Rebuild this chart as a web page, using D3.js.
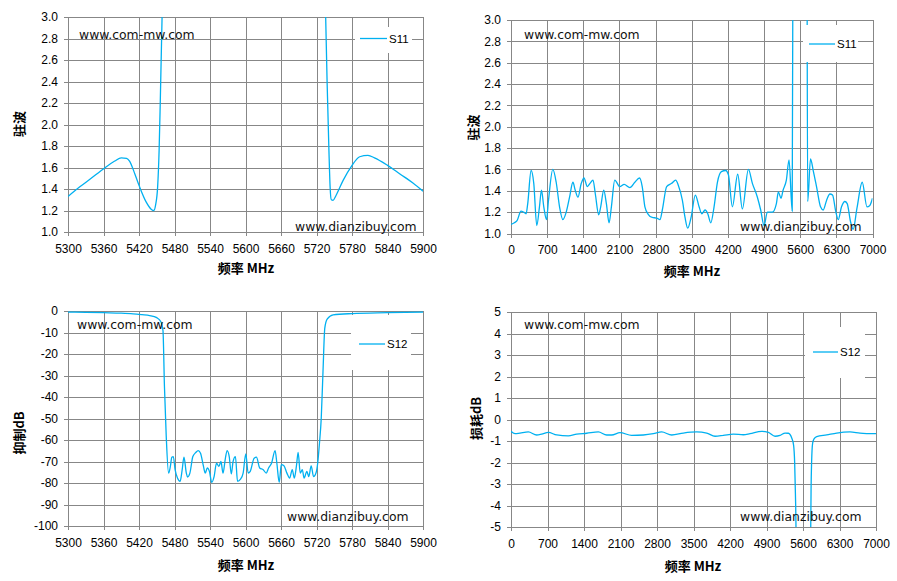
<!DOCTYPE html>
<html>
<head>
<meta charset="utf-8">
<script src="https://cdn.jsdelivr.net/npm/d3@7"></script>
<style>
  body { margin: 0; background: #fff; }
  svg { display: block; }
  .axis text { font-family: "Liberation Sans", Arial, sans-serif; font-size: 12px; fill: #000; }
  .axis line { stroke: #878787; stroke-width: 1; shape-rendering: crispEdges; }
  .axis .domain { display: none; }
  .title { font-family: "Noto Sans CJK SC", sans-serif; font-size: 13px; font-weight: bold; fill: #000; }
  .mark { font-family: "DejaVu Sans", Verdana, sans-serif; font-size: 12.4px; fill: #111; }
  .legend-text { font-family: "Liberation Sans", Arial, sans-serif; font-size: 11.5px; fill: #000; }
  .series { fill: none; stroke: #00b0f0; stroke-width: 1.3; }
</style>
</head>
<body>
<div id="chart"></div>
<script>
const width = 897;
const height = 581;

// tick values
const narrowTicks = [5300, 5360, 5420, 5480, 5540, 5600, 5660, 5720, 5780, 5840, 5900];
const wideTicks = [0, 700, 1400, 2100, 2800, 3500, 4200, 4900, 5600, 6300, 7000];
const vswrTicks = [1.0, 1.2, 1.4, 1.6, 1.8, 2.0, 2.2, 2.4, 2.6, 2.8, 3.0];
const rejectTicks = [0, -10, -20, -30, -40, -50, -60, -70, -80, -90, -100];
const lossTicks = [5, 4, 3, 2, 1, 0, -1, -2, -3, -4, -5];

// S11 narrow band (VSWR), values above 3.0 are off the chart
const s11NarrowFreq = [5300, 5320, 5337, 5362, 5379, 5390, 5399, 5404, 5413, 5421, 5432, 5441, 5445, 5448, 5451.5, 5454, 5456, 5459, 5462, 5470, 5500, 5600, 5700, 5725, 5732, 5735.5, 5738, 5741, 5743, 5745, 5748, 5753, 5765, 5779, 5793, 5807, 5818, 5840, 5861, 5883, 5900];
const s11NarrowVswr = [1.33, 1.42, 1.49, 1.595, 1.66, 1.69, 1.685, 1.66, 1.54, 1.42, 1.28, 1.21, 1.2, 1.25, 1.42, 1.76, 2.22, 3.0, 4, 8, 15, 20, 15, 8, 4, 3.0, 2.38, 1.76, 1.42, 1.3, 1.295, 1.34, 1.48, 1.61, 1.70, 1.713, 1.69, 1.62, 1.54, 1.456, 1.38];

// S11 wide band (VSWR)
const s11WideFreq = [0, 65, 117, 194, 246, 292, 324, 389, 441, 499, 551, 590, 635, 687, 726, 810, 875, 940, 1005, 1069, 1134, 1199, 1244, 1296, 1361, 1413, 1478, 1530, 1588, 1633, 1698, 1737, 1796, 1847, 1899, 1944, 2009, 2106, 2191, 2301, 2398, 2489, 2541, 2593, 2657, 2735, 2819, 2884, 2930, 3014, 3111, 3189, 3241, 3319, 3370, 3422, 3487, 3570, 3642, 3694, 3758, 3810, 3868, 3932, 3997, 4074, 4158, 4210, 4287, 4390, 4480, 4597, 4674, 4771, 4835, 4900, 4964, 5061, 5139, 5177, 5229, 5268, 5332, 5384, 5445, 5458, 5480, 5600, 5720, 5735, 5745, 5800, 5852, 5916, 5994, 6046, 6110, 6175, 6226, 6291, 6336, 6400, 6465, 6510, 6575, 6625, 6700, 6801, 6893, 6944, 7000];
const s11WideVswr = [1.085, 1.10, 1.12, 1.21, 1.20, 1.185, 1.28, 1.59, 1.47, 1.075, 1.25, 1.405, 1.25, 1.13, 1.31, 1.60, 1.48, 1.25, 1.13, 1.20, 1.34, 1.48, 1.405, 1.34, 1.47, 1.52, 1.44, 1.47, 1.50, 1.37, 1.175, 1.25, 1.405, 1.28, 1.10, 1.25, 1.50, 1.44, 1.46, 1.43, 1.48, 1.52, 1.44, 1.25, 1.18, 1.15, 1.145, 1.13, 1.22, 1.44, 1.47, 1.50, 1.45, 1.31, 1.15, 1.05, 1.15, 1.36, 1.25, 1.185, 1.22, 1.185, 1.10, 1.25, 1.48, 1.58, 1.59, 1.55, 1.25, 1.555, 1.23, 1.60, 1.47, 1.34, 1.22, 1.075, 1.20, 1.20, 1.28, 1.39, 1.33, 1.405, 1.50, 1.69, 1.21, 3.5, 10, 20, 10, 3.0, 1.30, 1.70, 1.59, 1.44, 1.25, 1.22, 1.31, 1.37, 1.36, 1.20, 1.13, 1.25, 1.30, 1.28, 1.11, 1.04, 1.24, 1.48, 1.25, 1.26, 1.33];

// S12 narrow band (rejection, dB)
const s12NarrowFreq = [5300, 5330, 5360, 5390, 5410, 5425, 5438, 5450, 5457, 5460.5, 5463, 5466, 5470, 5473, 5475.5, 5478, 5481, 5485, 5489.5, 5493, 5496, 5500, 5502, 5506, 5511, 5516, 5520, 5524, 5529, 5532, 5535.5, 5539, 5543, 5547, 5551, 5555, 5558.5, 5562, 5566, 5569, 5572.5, 5576, 5579, 5583, 5586.5, 5591.6, 5596, 5600.5, 5604.5, 5608, 5614.6, 5618.5, 5624, 5630, 5635, 5639, 5644, 5650, 5653, 5657, 5660.5, 5665, 5670, 5674.6, 5679, 5682.5, 5686, 5689, 5692.5, 5696, 5699, 5703.7, 5707, 5711, 5715, 5719.5, 5722, 5725, 5728, 5731, 5734, 5738, 5748, 5780, 5840, 5900];
const s12NarrowDb = [-0.5, -0.6, -0.8, -1.0, -1.3, -1.7, -2.1, -3.1, -5, -9, -35, -58, -75.4, -72.3, -68, -67.7, -73.8, -77.7, -79.2, -73.8, -68, -75.4, -77.2, -75.4, -67.7, -65.8, -64.9, -66.2, -72.3, -75.4, -73, -74.6, -79.7, -76.9, -70.8, -72.3, -70, -75.4, -68.5, -64.9, -67.7, -75.8, -70, -67.7, -79.2, -78.2, -75.4, -66.5, -75.4, -74.6, -68.5, -68, -73, -73.8, -75.4, -73, -70.8, -64.9, -70.8, -79.7, -71.5, -72, -75.4, -77.7, -73.8, -77.7, -72.3, -65.8, -75.4, -73.8, -77.7, -74.6, -77, -72, -77, -75, -70.8, -61.5, -50, -28, -8, -3.8, -1.8, -1.2, -0.8, -0.5];

// S12 wide band (insertion loss, dB)
const s12WideFreq = [0, 77, 173, 332, 492, 588, 716, 876, 1099, 1259, 1451, 1675, 1835, 1931, 2090, 2314, 2538, 2730, 2890, 3082, 3305, 3561, 3753, 3913, 4073, 4265, 4456, 4584, 4808, 4936, 5064, 5160, 5256, 5320, 5384, 5420, 5440, 5455, 5466, 5480, 5600, 5720, 5748, 5755, 5765, 5785, 5812, 5863, 6054, 6246, 6500, 6694, 7000];
const s12WideDb = [-0.55, -0.66, -0.63, -0.58, -0.72, -0.68, -0.6, -0.72, -0.76, -0.68, -0.64, -0.58, -0.72, -0.72, -0.61, -0.74, -0.72, -0.66, -0.58, -0.72, -0.63, -0.58, -0.63, -0.78, -0.74, -0.68, -0.71, -0.66, -0.55, -0.6, -0.78, -0.74, -0.63, -0.64, -0.86, -1.2, -2.0, -3.5, -5.2, -20, -60, -20, -5.2, -3.2, -2.0, -1.1, -0.9, -0.8, -0.72, -0.63, -0.58, -0.63, -0.66];

// plain hyphen for negatives, like the original
const locale = d3.formatLocale({ decimal: ".", thousands: ",", grouping: [3], currency: ["", ""], minus: "-" });
const fmtInt = locale.format("d");
const fmtOne = locale.format(".1f");

const panels = [
  {
    left: 68, right: 423, top: 17, bottom: 232,
    xDomain: [5300, 5900], yDomain: [1, 3],
    xTicks: narrowTicks, yTicks: vswrTicks, yFormat: fmtOne,
    freq: s11NarrowFreq, values: s11NarrowVswr, name: "S11",
    legend: { x0: 355, y0: 27, x1: 412, y1: 53, lx0: 360, lx1: 387, ly: 38.5 },
    xTitle: { x: 246, y: 267 }, yTitle: { x: 18, y: 124, text: "驻波" },
    mark1: { x: 79, y: 39 }, mark2: { x: 295, y: 230.5 },
  },
  {
    left: 511, right: 872.5, top: 20, bottom: 233.5,
    xDomain: [0, 7000], yDomain: [1, 3],
    xTicks: wideTicks, yTicks: vswrTicks, yFormat: fmtOne,
    freq: s11WideFreq, values: s11WideVswr, name: "S11",
    legend: { x0: 803, y0: 25, x1: 858, y1: 62, lx0: 809, lx1: 835, ly: 44 },
    xTitle: { x: 692, y: 270 }, yTitle: { x: 472, y: 127.5, text: "驻波" },
    mark1: { x: 524, y: 39 }, mark2: { x: 740, y: 230.5 },
  },
  {
    left: 68, right: 423, top: 311, bottom: 526,
    xDomain: [5300, 5900], yDomain: [-100, 0],
    xTicks: narrowTicks, yTicks: rejectTicks, yFormat: fmtInt,
    freq: s12NarrowFreq, values: s12NarrowDb, name: "S12",
    legend: { x0: 351, y0: 315, x1: 411, y1: 370, lx0: 359, lx1: 385, ly: 344 },
    xTitle: { x: 246, y: 564 }, yTitle: { x: 18, y: 433, text: "抑制dB" },
    mark1: { x: 77, y: 329 }, mark2: { x: 287, y: 520.5 },
  },
  {
    left: 511, right: 876, top: 312, bottom: 527,
    xDomain: [0, 7000], yDomain: [-5, 5],
    xTicks: wideTicks, yTicks: lossTicks, yFormat: fmtInt,
    freq: s12WideFreq, values: s12WideDb, name: "S12",
    legend: { x0: 805, y0: 327, x1: 865, y1: 378, lx0: 813, lx1: 838, ly: 352 },
    xTitle: { x: 693, y: 565 }, yTitle: { x: 475.5, y: 418.5, text: "损耗dB" },
    mark1: { x: 524, y: 329 }, mark2: { x: 740, y: 520.5 },
  },
];

const svg = d3.select("#chart")
  .append("svg")
  .attr("width", width)
  .attr("height", height);

const defs = svg.append("defs");

function drawPanel(p, i) {
  const plotW = p.right - p.left;
  const plotH = p.bottom - p.top;
  const x = d3.scaleLinear().domain(p.xDomain).range([p.left, p.right]);
  const y = d3.scaleLinear().domain(p.yDomain).range([p.bottom, p.top]);
  const g = svg.append("g");

  // gridlines + outward ticks
  g.append("g")
    .attr("class", "axis")
    .attr("transform", `translate(0,${p.bottom + 4})`)
    .call(d3.axisBottom(x).tickValues(p.xTicks).tickSizeInner(-(plotH + 4)).tickSizeOuter(0).tickPadding(8).tickFormat(fmtInt));

  g.append("g")
    .attr("class", "axis")
    .attr("transform", `translate(${p.left - 4},0)`)
    .call(d3.axisLeft(y).tickValues(p.yTicks).tickSizeInner(-(plotW + 4)).tickSizeOuter(0).tickPadding(6).tickFormat(p.yFormat));

  defs.append("clipPath")
    .attr("id", `clip${i}`)
    .append("rect")
    .attr("x", p.left)
    .attr("y", p.top)
    .attr("width", plotW)
    .attr("height", plotH);

  const line = d3.line()
    .x(d => x(d[0]))
    .y(d => y(d[1]))
    .curve(d3.curveMonotoneX);

  g.append("path")
    .datum(d3.zip(p.freq, p.values))
    .attr("class", "series")
    .attr("clip-path", `url(#clip${i})`)
    .attr("d", line);

  // legend
  const lg = p.legend;
  g.append("rect")
    .attr("x", lg.x0)
    .attr("y", lg.y0)
    .attr("width", lg.x1 - lg.x0)
    .attr("height", lg.y1 - lg.y0)
    .attr("fill", "#fff");
  g.append("line")
    .attr("class", "series")
    .attr("x1", lg.lx0)
    .attr("x2", lg.lx1)
    .attr("y1", lg.ly)
    .attr("y2", lg.ly);
  g.append("text")
    .attr("class", "legend-text")
    .attr("x", lg.lx1 + 2)
    .attr("y", lg.ly)
    .attr("dy", "0.35em")
    .text(p.name);

  // watermarks
  g.append("text").attr("class", "mark").attr("x", p.mark1.x).attr("y", p.mark1.y).text("www.com-mw.com");
  g.append("text").attr("class", "mark").attr("x", p.mark2.x).attr("y", p.mark2.y).text("www.dianzibuy.com");

  // axis titles
  g.append("text")
    .attr("class", "title")
    .attr("x", p.xTitle.x)
    .attr("y", p.xTitle.y)
    .attr("text-anchor", "middle")
    .attr("dominant-baseline", "central")
    .text("频率 MHz");

  g.append("text")
    .attr("class", "title")
    .attr("transform", `translate(${p.yTitle.x},${p.yTitle.y}) rotate(-90)`)
    .attr("text-anchor", "middle")
    .attr("dominant-baseline", "central")
    .text(p.yTitle.text);
}

panels.forEach(drawPanel);
</script>
</body>
</html>
